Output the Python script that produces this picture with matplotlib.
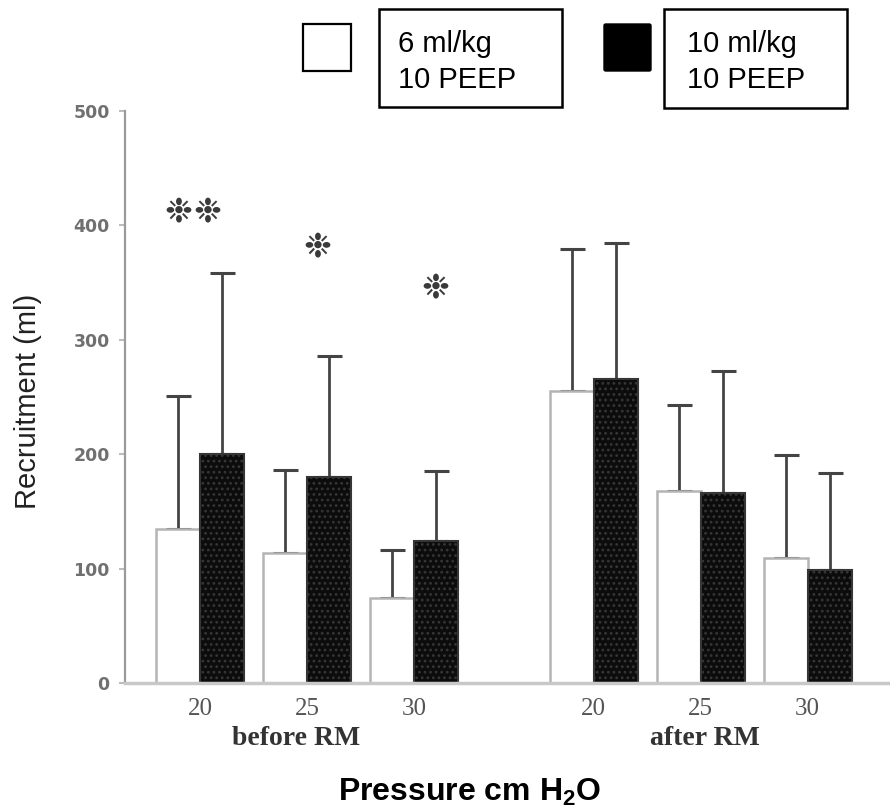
import numpy as np
import matplotlib
matplotlib.use("Agg")
import matplotlib.pyplot as plt
from matplotlib.patches import Rectangle, FancyBboxPatch

# ---------------- data ----------------
pressures = ["20", "25", "30"]
phases = ["before RM", "after RM"]
legend_labels = [("6 ml/kg", "10 PEEP"), ("10 ml/kg", "10 PEEP")]

low_before = [135, 114, 74]      # 6 ml/kg, before RM
low_before_sd = [116, 72, 42]
high_before = [200, 180, 124]    # 10 ml/kg, before RM
high_before_sd = [158, 106, 61]

low_after = [255, 168, 109]      # 6 ml/kg, after RM
low_after_sd = [124, 75, 90]
high_after = [266, 166, 99]      # 10 ml/kg, after RM
high_after_sd = [119, 107, 85]

sig_marks = ["❉", "❉", "❉", "❉"]
sig_values = [412, 412, 381, 345]

y_ticks = [0, 100, 200, 300, 400, 500]

plt.rcParams["mathtext.fontset"] = "custom"
plt.rcParams["mathtext.rm"] = "Liberation Sans:bold"
plt.rcParams["mathtext.default"] = "rm"
plt.rcParams["hatch.linewidth"] = 1.2

W, H = 890, 809
fig = plt.figure(figsize=(W / 100, H / 100), dpi=100)
ax = fig.add_axes([125 / W, 1 - 683 / H, 763 / W, 572 / H])

def fx(px):
    return px / W

def fy(py):
    return 1 - py / H

bw = 0.41
pos_before = np.arange(3) * 1.0
pos_after = 3.68 + np.arange(3) * 1.0
positions = np.concatenate([pos_before, pos_after])

low = np.array(low_before + low_after)
low_sd = np.array(low_before_sd + low_after_sd)
high = np.array(high_before + high_after)
high_sd = np.array(high_before_sd + high_after_sd)

err_kw = dict(ecolor="#444444", elinewidth=2.0, capsize=9, capthick=2.2, zorder=1)
ax.bar(positions - bw / 2, low, width=bw, color="white", edgecolor="#b4b4b4",
       linewidth=1.8, zorder=2)
ax.errorbar(positions - bw / 2, low, yerr=[np.zeros_like(low_sd), low_sd],
            fmt="none", **err_kw)
ax.bar(positions + bw / 2, high, width=bw, color="#0c0c0c", edgecolor="#363636",
       linewidth=1.5, hatch="...", zorder=2)
ax.errorbar(positions + bw / 2, high, yerr=[np.zeros_like(high_sd), high_sd],
            fmt="none", **err_kw)

# significance markers (before RM)
sig_x = [-0.205, 0.066, 1.10, 2.20]
for x, y, m in zip(sig_x, sig_values, sig_marks):
    ax.text(x, y, m, ha="center", va="center", fontsize=24, color="#3a3a3a",
            family="DejaVu Sans")

ax.set_xlim(-0.7, 6.43)
ax.set_ylim(0, 500)

for s in ["top", "right"]:
    ax.spines[s].set_visible(False)
ax.spines["left"].set_color("#9a9a9a")
ax.spines["left"].set_linewidth(1.6)
ax.spines["bottom"].set_color("#c8c8c8")
ax.spines["bottom"].set_linewidth(2.5)

ax.set_yticks(y_ticks)
ax.set_yticklabels([str(v) for v in y_ticks], family="DejaVu Sans",
                   fontweight="bold", fontsize=12.5, color="#707070")
ax.tick_params(axis="y", direction="out", length=4, width=1.5, color="#bdbdbd", pad=7)

ax.set_xticks(positions)
ax.set_xticklabels(pressures * 2, family="Liberation Serif", fontsize=18, color="#555555")
ax.tick_params(axis="x", length=0, pad=11)

# group labels
fig.text(fx(296), fy(745), phases[0], ha="center", va="baseline",
         family="Liberation Serif", fontweight="bold", fontsize=20, color="#333333")
fig.text(fx(705), fy(745), phases[1], ha="center", va="baseline",
         family="Liberation Serif", fontweight="bold", fontsize=20, color="#333333")

# x / y labels
fig.text(fx(470), fy(801), r"Pressure cm H$_\mathrm{2}$O", ha="center", va="baseline",
         family="Liberation Sans", fontweight="bold", fontsize=23, color="black")
fig.text(fx(36), fy(401), "Recruitment (ml)", rotation=90, ha="center", va="baseline",
         rotation_mode="anchor", family="Liberation Sans", fontsize=21, color="#222222")

# legend
fig.add_artist(Rectangle((fx(303), fy(71)), 48 / W, 47 / H, transform=fig.transFigure,
                         facecolor="white", edgecolor="black", linewidth=1.6))
fig.add_artist(FancyBboxPatch((fx(604), fy(71)), 47 / W, 47 / H,
                              boxstyle="round,pad=0,rounding_size=0.002",
                              transform=fig.transFigure,
                              facecolor="black", edgecolor="black", linewidth=1.0))
fig.add_artist(Rectangle((fx(379), fy(107)), 183 / W, 98 / H, transform=fig.transFigure,
                         facecolor="white", edgecolor="black", linewidth=1.8))
fig.add_artist(Rectangle((fx(664), fy(108)), 183 / W, 99 / H, transform=fig.transFigure,
                         facecolor="white", edgecolor="black", linewidth=1.8))
for left, (l1, l2) in zip([398, 687], legend_labels):
    fig.text(fx(left), fy(52), l1, ha="left", va="baseline", family="Liberation Sans",
             fontsize=21, color="black")
    fig.text(fx(left), fy(88), l2, ha="left", va="baseline", family="Liberation Sans",
             fontsize=21, color="black")

fig.savefig("out.png", dpi=100)
